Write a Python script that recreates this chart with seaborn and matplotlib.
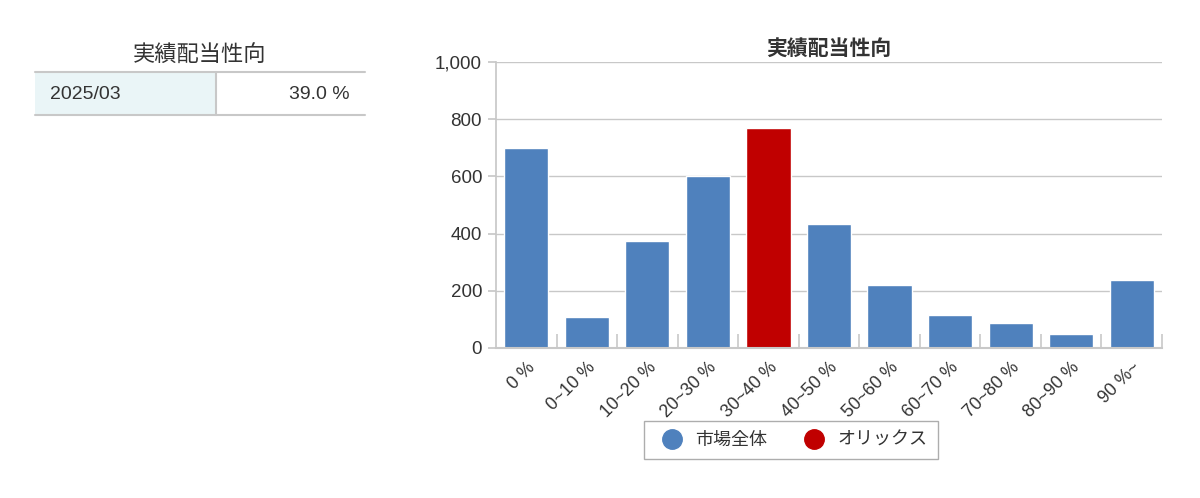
import seaborn as sns
import pandas as pd
import matplotlib.pyplot as plt
from matplotlib.lines import Line2D
from matplotlib.patches import Rectangle

# data
categories = ['0 %', '0~10 %', '10~20 %', '20~30 %', '30~40 %', '40~50 %',
              '50~60 %', '60~70 %', '70~80 %', '80~90 %', '90 %~']
counts = [699, 109, 375, 600, 769, 435, 221, 116, 88, 48, 238]
groups = ['市場全体'] * 4 + ['オリックス'] + ['市場全体'] * 6
table_period = '2025/03'
table_value = '39.0 %'
title = '実績配当性向'

blue = '#4F81BD'
red = '#C00000'
grid = '#C8C8C8'
txt = '#333333'

sns.set_theme(style='white')
plt.rcParams['font.family'] = ['Liberation Sans', 'Noto Sans CJK JP', 'DejaVu Sans']

df = pd.DataFrame({'cat': categories, 'count': counts, 'group': groups})

fig = plt.figure(figsize=(12, 4.98), dpi=100)

# bar chart
ax = fig.add_axes([496 / 1200, 150 / 498, 666 / 1200, 286 / 498])
sns.barplot(data=df, x='cat', y='count', hue='group', dodge=False,
            palette={'市場全体': blue, 'オリックス': red}, width=0.73,
            saturation=1, legend=False, ax=ax)
ax.set_ylim(0, 1000)
ax.set_xlim(-0.5, len(categories) - 0.5)
ax.set_yticks(range(0, 1001, 200))
ax.set_yticklabels([f'{v:,}' for v in range(0, 1001, 200)], fontsize=13.5, color=txt)
ax.yaxis.grid(True, color=grid, linewidth=1)
ax.set_axisbelow(True)
ax.set_xlabel('')
ax.set_ylabel('')
ax.set_xticks(range(len(categories)))
ax.set_xticklabels(categories, rotation=45, ha='right', rotation_mode='anchor',
                   fontsize=12.8, color=txt)
ax.tick_params(axis='x', length=0, pad=8)
ax.tick_params(axis='y', length=6, color=grid, left=True, pad=4)
# small inward ticks between categories
ax.set_xticks([i + 0.5 for i in range(len(categories))], minor=True)
ax.tick_params(axis='x', which='minor', length=10, direction='in', color=grid,
               width=1.2, bottom=True)
for s in ['top', 'right']:
    ax.spines[s].set_visible(False)
ax.spines['left'].set_color(grid)
ax.spines['bottom'].set_color(grid)
ax.spines['bottom'].set_linewidth(1.5)
ax.set_title(title, fontsize=15, fontweight='bold', color=txt, pad=5,
             family=['Noto Sans CJK JP'])

handles = [Line2D([], [], marker='o', linestyle='', markersize=14, color=blue),
           Line2D([], [], marker='o', linestyle='', markersize=14, color=red)]
leg = fig.legend(handles, ['市場全体', 'オリックス'], loc='center',
                 bbox_to_anchor=(791 / 1200, 1 - 440 / 498), ncol=2,
                 prop={'family': ['Noto Sans CJK JP'], 'size': 13},
                 frameon=True, fancybox=False, edgecolor='#999999',
                 handletextpad=0.3, columnspacing=1.6, borderpad=0.55)
for t in leg.get_texts():
    t.set_color(txt)

# small table on the left
tx = fig.add_axes([0, 0, 1, 1])
tx.set_xlim(0, 1200)
tx.set_ylim(498, 0)
tx.axis('off')
tx.add_patch(Rectangle((35, 72), 181, 43, facecolor='#EAF5F7', edgecolor='none'))
tx.plot([35, 365], [72, 72], color='#C8C8C8', lw=1.5)
tx.plot([35, 365], [115, 115], color='#C8C8C8', lw=1.5)
tx.plot([216, 216], [72, 115], color='#C8C8C8', lw=1.5)
tx.text(200, 55, title, ha='center', va='center', fontsize=16, color=txt,
        family=['Noto Sans CJK JP'])
tx.text(50, 94, table_period, ha='left', va='center', fontsize=14, color=txt)
tx.text(350, 94, table_value, ha='right', va='center', fontsize=14, color=txt)

fig.savefig('out.png', dpi=100)
